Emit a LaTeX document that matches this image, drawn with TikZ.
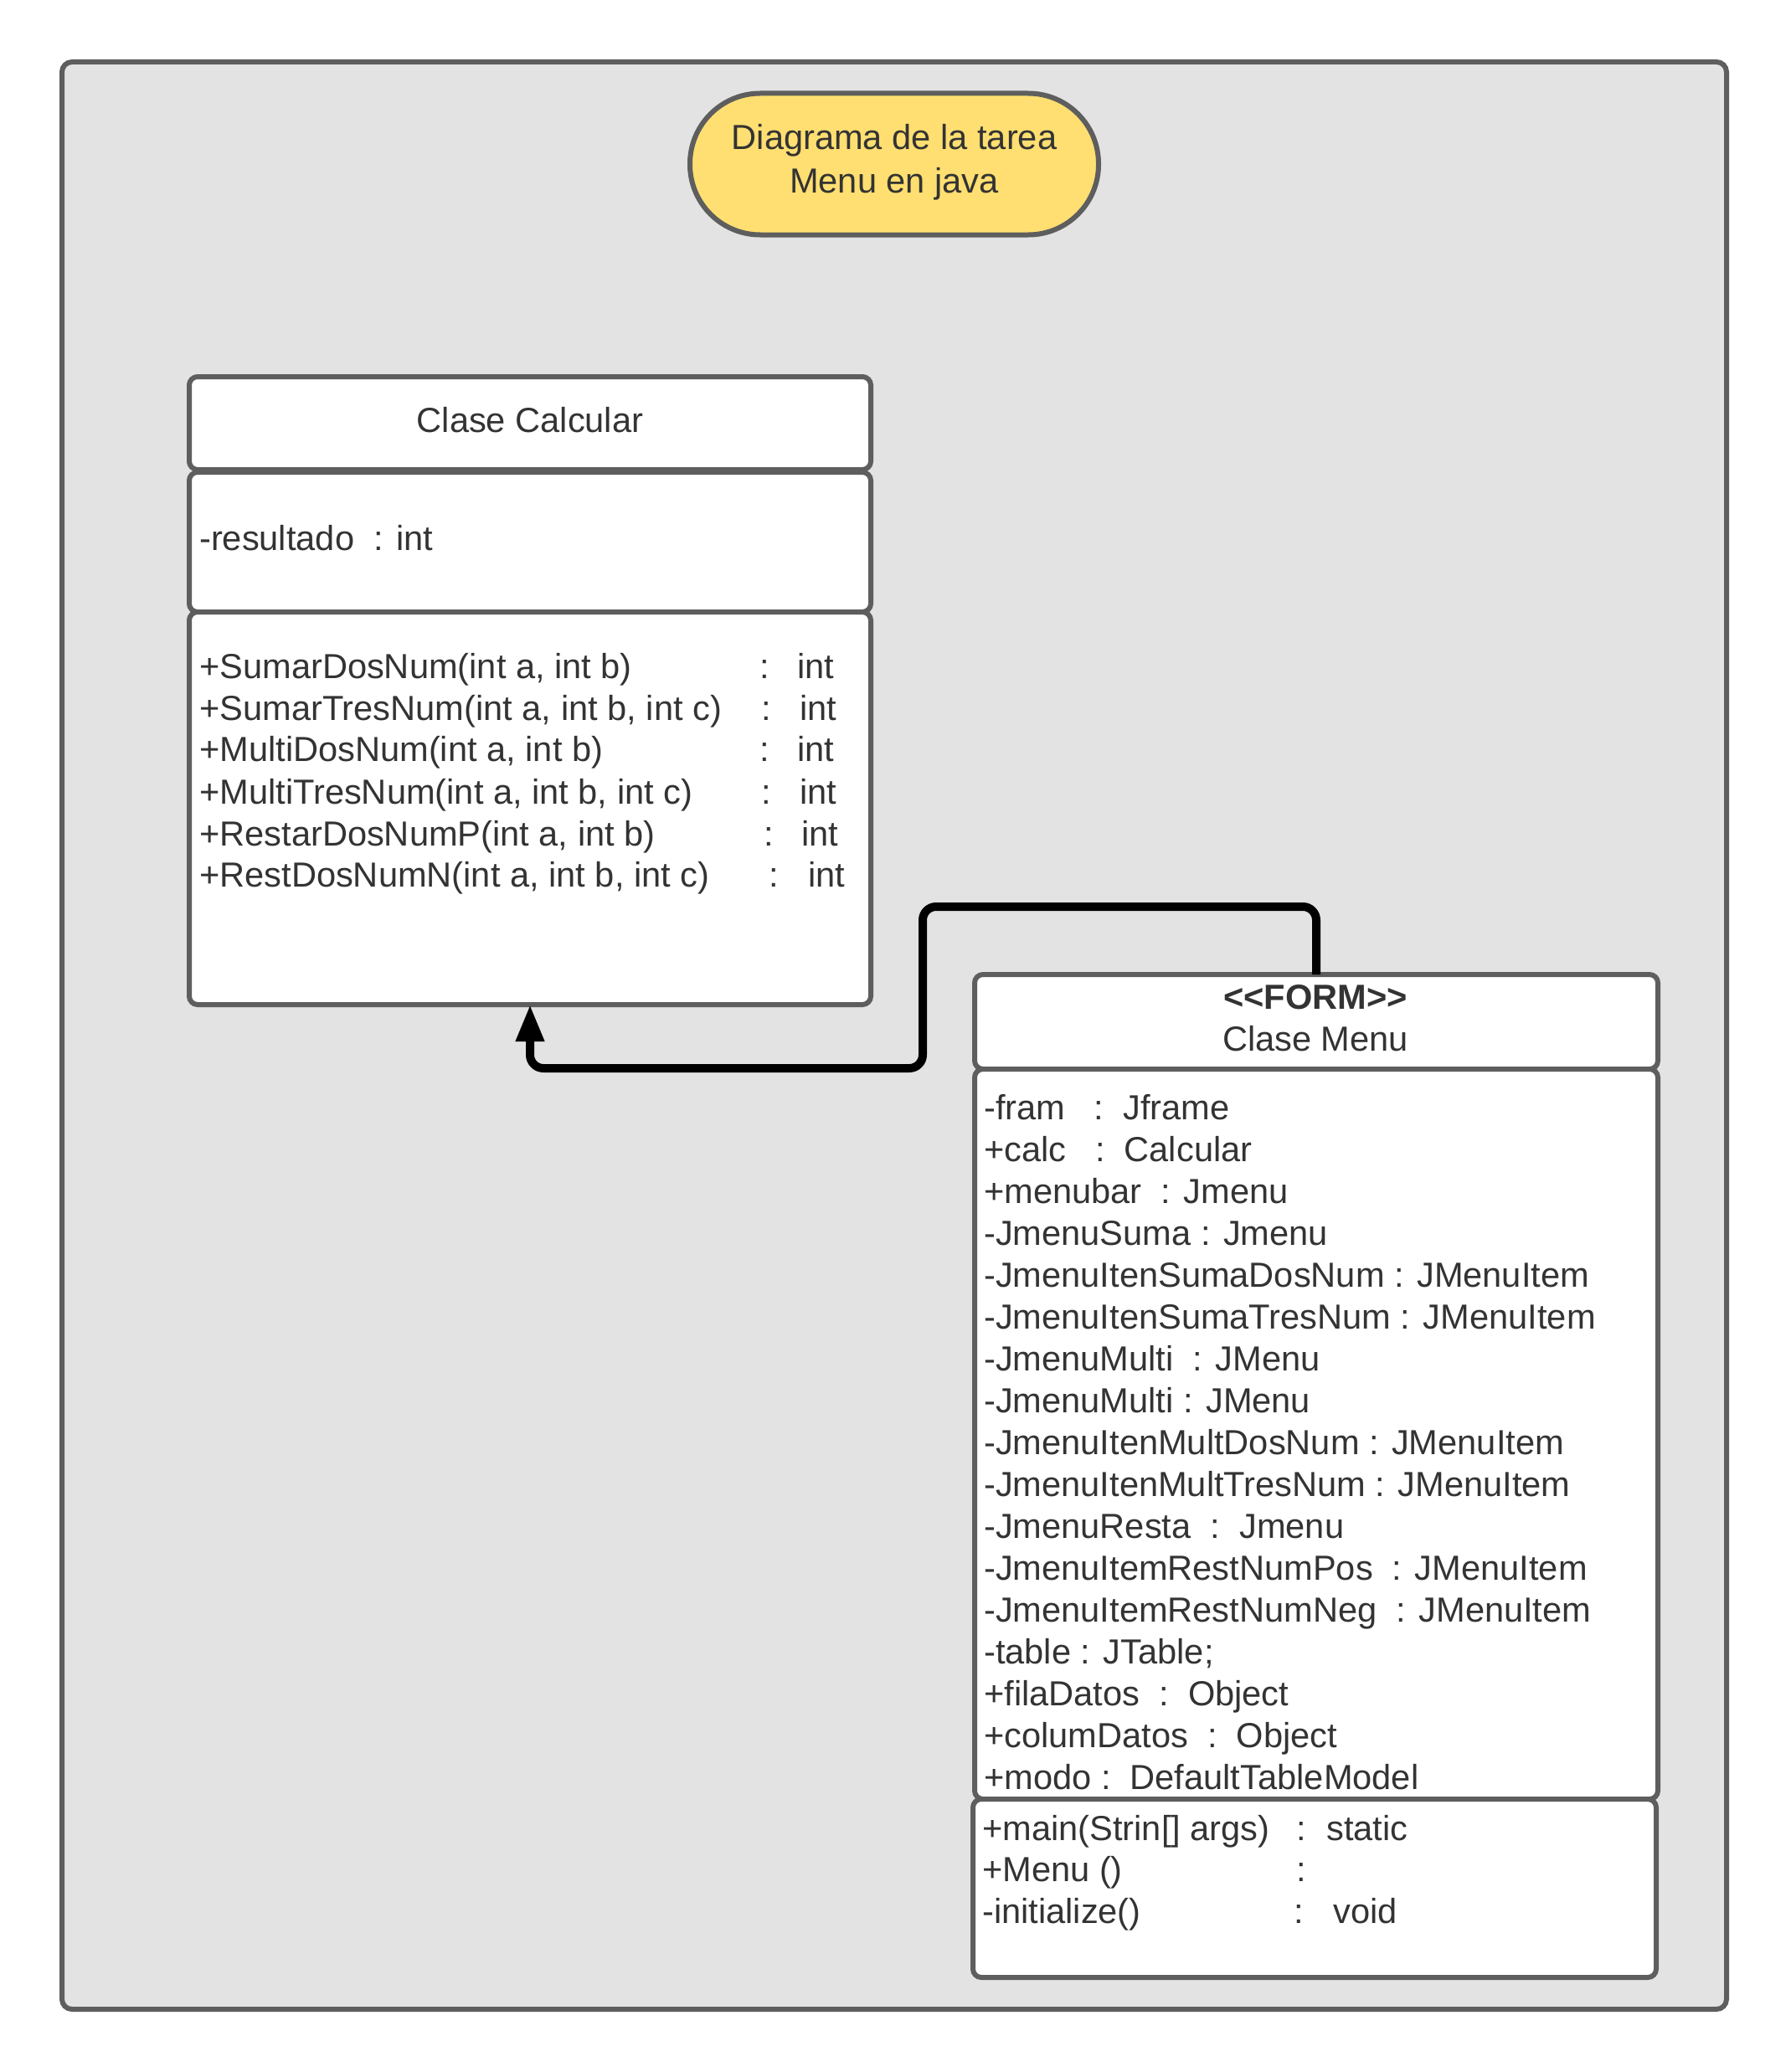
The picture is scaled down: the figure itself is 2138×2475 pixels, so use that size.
\documentclass[tikz,border=0pt]{standalone}
\usepackage{fontspec}
\setmainfont{Liberation Sans}
\usetikzlibrary{arrows.meta}
\definecolor{bgc}{HTML}{E3E3E3}
\definecolor{edgec}{HTML}{5E5E5E}
\definecolor{txtc}{HTML}{333333}
\definecolor{ttlc}{HTML}{FFDF71}
\begin{document}
\begin{tikzpicture}[x=1pt,y=-1pt,
  font=\fontsize{41.6}{51}\selectfont,
  frame/.style={draw=edgec, fill=bgc, line width=6pt, rounded corners=12pt},
  compart/.style={draw=edgec, fill=white, line width=6pt, rounded corners=10pt, inner sep=0pt, outer sep=0pt, anchor=north west},
  titlebox/.style={draw=edgec, fill=ttlc, line width=6pt, rounded corners=84pt, minimum width=488pt, minimum height=169pt, inner sep=0pt, outer sep=0pt},
  lbl/.style={text=txtc, inner sep=0pt, anchor=base west},
  clbl/.style={text=txtc, inner sep=0pt, anchor=base},
  conn/.style={line width=10pt, black, rounded corners=16pt, -{Triangle[length=44pt,width=32pt]}}
]
\useasboundingbox (0,0) rectangle (2138,2475);
\fill[white] (0,0) rectangle (2138,2475);
\draw[frame] (74,74) rectangle (2062,2400);

% title
\node[titlebox] (title) at (1068,196) {};
\node[clbl] (titleL1) at (1068,179) {Diagrama de la tarea};
\node[clbl] (titleL2) at (1068,230) {Menu en java};

% Clase Calcular
\node[compart, minimum width=814pt, minimum height=111pt] (calcHead) at (226,450) {};
\node[compart, minimum width=814pt, minimum height=167pt] (calcAttr) at (226,564) {};
\node[compart, minimum width=814pt, minimum height=469pt] (calcOps) at (226,731) {};
\node[clbl] (calcName) at (633,516) {Clase Calcular};
\node[lbl] (calcA1) at (238,657) {-resultado~~: int};

\node[lbl] (cm1) at (238,810) {+SumarDosNum(int a, int b)};
\node[lbl] (cm2) at (238,860) {+SumarTresNum(int a, int b, int c)};
\node[lbl] (cm3) at (238,909) {+MultiDosNum(int a, int b)};
\node[lbl] (cm4) at (238,960) {+MultiTresNum(int a, int b, int c)};
\node[lbl] (cm5) at (238,1010) {+RestarDosNumP(int a, int b)};
\node[lbl] (cm6) at (238,1059) {+RestDosNumN(int a, int b, int c)};
\node[lbl] (cc1) at (907,810) {:};
\node[lbl] (cc2) at (909,860) {:};
\node[lbl] (cc3) at (907,909) {:};
\node[lbl] (cc4) at (909,960) {:};
\node[lbl] (cc5) at (912,1010) {:};
\node[lbl] (cc6) at (918,1059) {:};
\node[lbl] (ct1) at (952,810) {int};
\node[lbl] (ct2) at (955,860) {int};
\node[lbl] (ct3) at (952,909) {int};
\node[lbl] (ct4) at (955,960) {int};
\node[lbl] (ct5) at (957,1010) {int};
\node[lbl] (ct6) at (965,1059) {int};

% Clase Menu
\node[compart, minimum width=816pt, minimum height=113pt] (menuHead) at (1164,1164) {};
\node[compart, minimum width=816pt, minimum height=872pt] (menuAttr) at (1164,1277) {};
\node[compart, minimum width=816pt, minimum height=213pt] (menuOps) at (1162,2149) {};
\node[clbl, font=\fontsize{41.6}{51}\selectfont\bfseries] (menuStereo) at (1571,1205) {<\kern0pt<FORM>\kern0pt>};
\node[clbl] (menuName) at (1571,1255) {Clase Menu};

\node[lbl] (ma1) at (1175,1337) {-fram~~~:~~Jframe};
\node[lbl] (ma2) at (1175,1387) {+calc~~~:~~Calcular};
\node[lbl] (ma3) at (1175,1437) {+menubar~~: Jmenu};
\node[lbl] (ma4) at (1175,1487) {-JmenuSuma : Jmenu};
\node[lbl] (ma5) at (1175,1537) {-JmenuItenSumaDosNum : JMenuItem};
\node[lbl] (ma6) at (1175,1587) {-JmenuItenSumaTresNum : JMenuItem};
\node[lbl] (ma7) at (1175,1637) {-JmenuMulti~~: JMenu};
\node[lbl] (ma8) at (1175,1687) {-JmenuMulti : JMenu};
\node[lbl] (ma9) at (1175,1737) {-JmenuItenMultDosNum : JMenuItem};
\node[lbl] (ma10) at (1175,1787) {-JmenuItenMultTresNum : JMenuItem};
\node[lbl] (ma11) at (1175,1837) {-JmenuResta~~:~~Jmenu};
\node[lbl] (ma12) at (1175,1887) {-JmenuItemRestNumPos~~: JMenuItem};
\node[lbl] (ma13) at (1175,1937) {-JmenuItemRestNumNeg~~: JMenuItem};
\node[lbl] (ma14) at (1175,1987) {-table : JTable;};
\node[lbl] (ma15) at (1175,2037) {+filaDatos~~:~~Object};
\node[lbl] (ma16) at (1175,2087) {+columDatos~~:~~Object};
\node[lbl] (ma17) at (1175,2137) {+modo :~~DefaultTableModel};

\node[lbl] (mm1) at (1173,2198) {+main(Strin[] args)};
\node[lbl] (mm2) at (1173,2247) {+Menu ()};
\node[lbl] (mm3) at (1173,2297) {-initialize()};
\node[lbl] (mc1) at (1548,2198) {:};
\node[lbl] (mc2) at (1548,2247) {:};
\node[lbl] (mc3) at (1545,2297) {:};
\node[lbl] (mt1) at (1584,2198) {static};
\node[lbl] (mt3) at (1592,2297) {void};

% connector
\draw[conn] (menuHead.north) |- (1102,1083) -- (1102,1276) -| (calcOps.south);
\end{tikzpicture}
\end{document}
